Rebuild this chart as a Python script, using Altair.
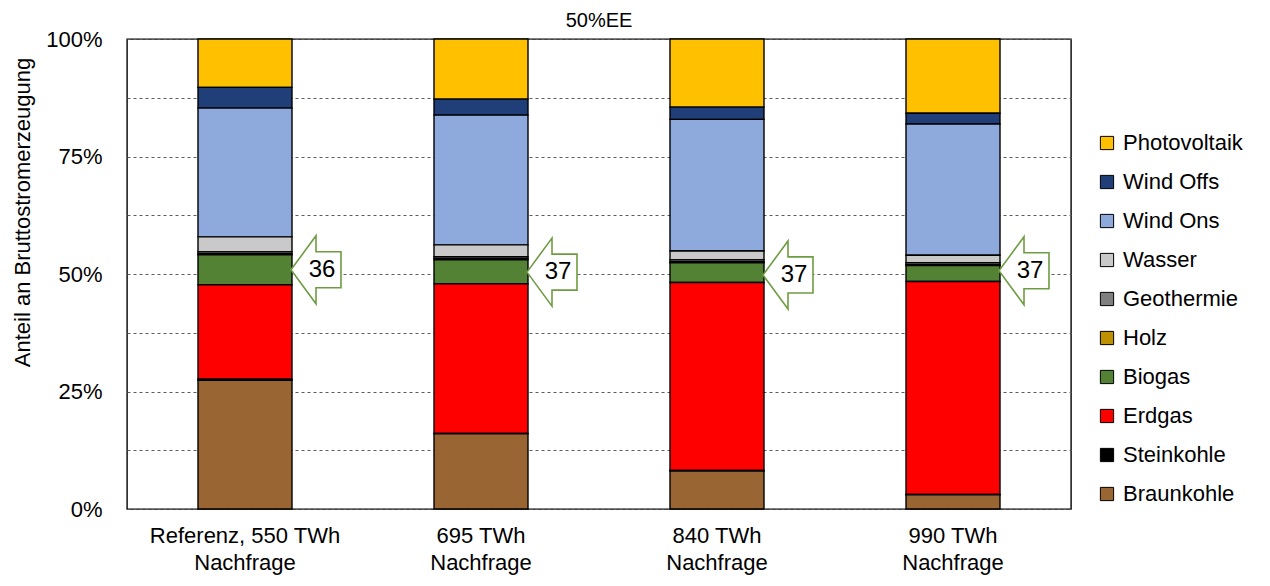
import altair as alt
import pandas as pd

# ---- data ----
categories = ["Referenz, 550 TWh\nNachfrage", "695 TWh\nNachfrage",
              "840 TWh\nNachfrage", "990 TWh\nNachfrage"]
# legend order (top -> bottom); stack order is the reverse
sources = ["Photovoltaik", "Wind Offs", "Wind Ons", "Wasser", "Geothermie",
           "Holz", "Biogas", "Erdgas", "Steinkohle", "Braunkohle"]
colors = ["#FFC000", "#203F78", "#8EA9DB", "#C9C9C9", "#7F7F7F",
          "#BF9000", "#548235", "#FF0000", "#000000", "#996633"]

photovoltaik = [10.3, 12.8, 14.5, 15.8]
wind_offs = [4.4, 3.4, 2.6, 2.3]
wind_ons = [27.4, 27.6, 28.0, 27.9]
wasser = [3.2, 2.5, 1.9, 1.6]
geothermie = [0.4, 0.4, 0.4, 0.4]
holz = [0.2, 0.3, 0.2, 0.2]
biogas = [6.4, 5.1, 4.2, 3.4]
erdgas = [20.1, 31.8, 40.0, 45.3]
steinkohle = [0.2, 0.1, 0.1, 0.1]
braunkohle = [27.4, 16.0, 8.1, 3.0]

series = [photovoltaik, wind_offs, wind_ons, wasser, geothermie,
          holz, biogas, erdgas, steinkohle, braunkohle]

arrow_labels = ["36", "37", "37", "37"]
arrow_pos = [50.9, 50.4, 49.8, 50.7]   # % height the arrow points at

grid_values = [0, 0.125, 0.25, 0.375, 0.5, 0.625, 0.75, 0.875, 1.0]

# ---- tables ----
rows = []
for si, (src, vals) in enumerate(zip(sources, series)):
    for cat, v in zip(categories, vals):
        rows.append({"Kategorie": cat, "Quelle": src, "Wert": v / 100.0,
                     "Ordnung": len(sources) - 1 - si})
df = pd.DataFrame(rows)

df_arrow = pd.DataFrame({"Kategorie": categories, "Label": arrow_labels,
                         "Pos": [p / 100.0 for p in arrow_pos]})

FONT = "Liberation Sans"

x_enc = alt.X("Kategorie:N", sort=categories,
              scale=alt.Scale(paddingInner=0, paddingOuter=0),
              axis=alt.Axis(title=None, labelAngle=0, domain=False, ticks=False,
                            labelExpr="split(datum.label, '\\n')",
                            labelLineHeight=27, labelPadding=16,
                            labelLimit=400,
                            labelFontSize=22, labelColor="#000",
                            labelFont=FONT))

bars = alt.Chart(df).mark_bar(size=94, stroke="black", strokeWidth=1.4).encode(
    x=x_enc,
    y=alt.Y("Wert:Q", stack="normalize",
            scale=alt.Scale(domain=[0, 1], nice=False),
            axis=alt.Axis(title="Anteil an Bruttostromerzeugung",
                          values=grid_values,
                          labelExpr="(round(datum.value*8) % 2 == 0) ? format(datum.value, '.0%') : ''",
                          domain=False, ticks=False, labelPadding=25,
                          labelFontSize=22, labelColor="#000", labelFont=FONT,
                          grid=True, gridDash=[3, 3], gridColor="#5e5e5e",
                          gridWidth=1,
                          titleFontSize=22, titleFontWeight="normal",
                          titleFont=FONT, titleColor="#000",
                          titleX=-105, titleY=173, titleAngle=-90,
                          titleAlign="center", titleBaseline="middle")),
    color=alt.Color("Quelle:N", sort=sources,
                    scale=alt.Scale(domain=sources, range=colors),
                    legend=alt.Legend(title=None, orient="none",
                                      legendX=969, legendY=93,
                                      symbolType="square", symbolSize=175,
                                      symbolStrokeColor="black",
                                      symbolStrokeWidth=1,
                                      labelFontSize=22, labelFont=FONT,
                                      labelColor="#000", rowPadding=17,
                                      labelOffset=5, labelLimit=300)),
    order=alt.Order("Ordnung:Q", sort="ascending"),
)

arrow_path = ("M -0.735 0 L 0 -1 L 0 -0.53 L 0.735 -0.53 "
              "L 0.735 0.53 L 0 0.53 L 0 1 Z")

arrows = alt.Chart(df_arrow).mark_point(
    shape=arrow_path, size=4624, filled=True, fill="white", opacity=1,
    stroke="#6E9C43", strokeWidth=1.6, xOffset=71
).encode(
    x=alt.X("Kategorie:N", sort=categories),
    y=alt.Y("Pos:Q"),
)

arrow_text = alt.Chart(df_arrow).mark_text(
    fontSize=24, font=FONT, color="#000", xOffset=77, baseline="middle",
    align="center"
).encode(
    x=alt.X("Kategorie:N", sort=categories),
    y=alt.Y("Pos:Q"),
    text="Label:N",
)

chart = alt.layer(bars, arrows, arrow_text).properties(
    width=944, height=470,
    autosize=alt.AutoSizeParams(type="none"),
    padding={"left": 119, "top": 31, "right": 180, "bottom": 68},
    title=alt.Title("50%EE", fontSize=20, fontWeight="normal", font=FONT,
                    color="#000", offset=-3),
).configure(font=FONT).configure_view(
    stroke="black", strokeWidth=1.4
)

chart.save("out.html", embed_options={"renderer": "svg", "actions": False})
